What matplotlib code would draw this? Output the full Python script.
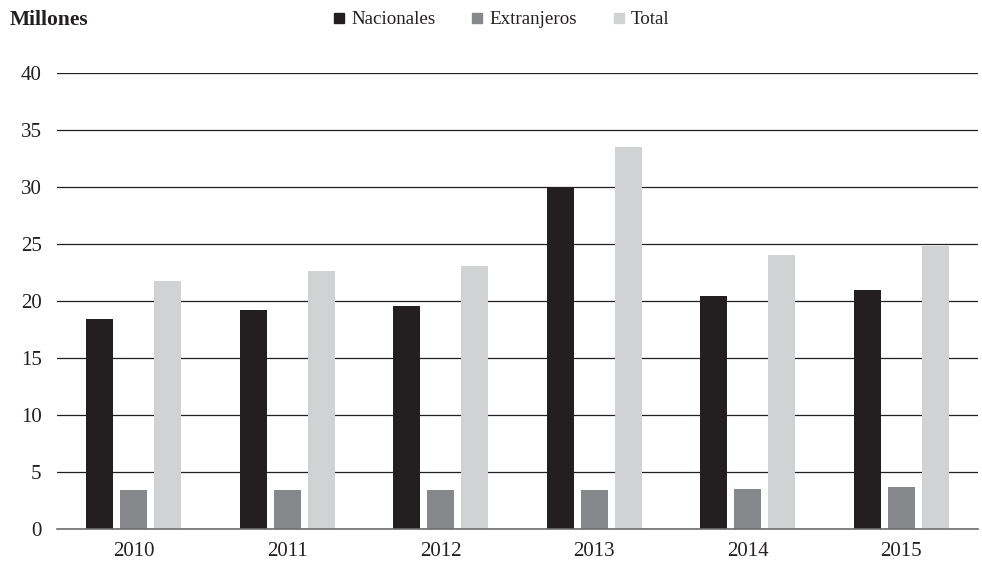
import matplotlib.pyplot as plt
import numpy as np
from matplotlib.lines import Line2D


anios: list[str] = ["2010", "2011", "2012", "2013", "2014", "2015"]
nacionales: list[float] = [18.4, 19.2, 19.6, 30.0, 20.4, 21.0]
extranjeros: list[float] = [3.4, 3.4, 3.4, 3.45, 3.57, 3.71]
total: list[float] = [21.8, 22.6, 23.1, 33.5, 24.0, 24.8]

series: list[str] = ["Nacionales", "Extranjeros", "Total"]
colores: list[str] = ["#231f20", "#87888c", "#d1d2d4"]


def main() -> None:
    plt.rcParams["font.family"] = ["Liberation Serif", "DejaVu Serif"]

    fig = plt.figure(figsize=(9.82, 5.74), dpi=100)
    ax = fig.add_axes([0.058, 0.078, 0.938, 0.795])

    x = np.arange(len(anios))
    ancho = 0.176
    paso = 0.2215
    for i, (valores, color) in enumerate(zip([nacionales, extranjeros, total], colores)):
        ax.bar(x + (i - 1) * paso, valores, width=ancho, color=color,
               edgecolor="none", zorder=3)

    ax.set_xlim(-0.5, len(anios) - 0.5)
    ax.set_ylim(0, 40)
    ax.set_yticks(range(0, 41, 5))
    ax.set_xticks(x)
    ax.set_xticklabels(anios)
    ax.tick_params(axis="both", length=0, labelsize=15, colors="#231f20")
    ax.tick_params(axis="y", pad=11)
    ax.tick_params(axis="x", pad=9)

    ax.grid(axis="y", color="#231f20", linewidth=0.9, zorder=1)
    for lado in ["top", "right", "left"]:
        ax.spines[lado].set_visible(False)
    ax.spines["bottom"].set_color("#6d6e71")
    ax.spines["bottom"].set_linewidth(1.2)
    ax.spines["bottom"].set_zorder(4)

    fig.text(0.010, 0.965, "Millones", fontsize=15.5, fontweight="bold",
             ha="left", va="center", color="#231f20")

    manejadores = [
        Line2D([], [], marker="s", linestyle="none", markersize=6.5,
               markerfacecolor=c, markeredgecolor=c)
        for c in colores
    ]
    fig.legend(manejadores, series, loc="center", bbox_to_anchor=(0.510, 0.966),
               ncol=3, frameon=False, fontsize=13.7, handletextpad=0.31,
               columnspacing=1.83, handlelength=0.7, labelcolor="#231f20")

    fig.savefig("out.png", dpi=100)


if __name__ == "__main__":
    main()
